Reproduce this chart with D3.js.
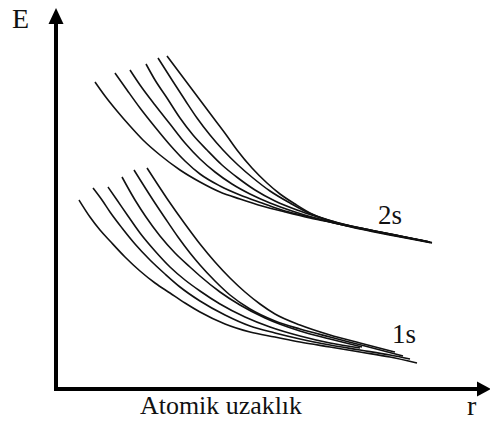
<!DOCTYPE html>
<html>
<head>
<meta charset="utf-8">
<script src="https://cdn.jsdelivr.net/npm/d3@7"></script>
<style>
  html, body { margin: 0; padding: 0; background: #fff; }
  svg { display: block; }
  .lbl { font-family: "Liberation Serif", "DejaVu Serif", "Times New Roman", Times, serif; fill: #111; }
</style>
</head>
<body>
<svg id="chart" width="490" height="423"></svg>
<script>
// values: r (atomic distance) and E, arbitrary units
const curves2s = [
  [[39,307],[49,293],[61,278],[74,263],[87,249],[104,234],[124,219],[144,207],[164,197],[184,190],[206,183],[229,177],[254,171],[274,167],[304,160],[339,153],[376,146]],
  [[59,316],[71,299],[84,281],[99,262],[114,244],[129,228],[144,215],[164,203],[184,194],[206,186],[229,178],[254,172],[274,167],[304,160.5],[339,153.5],[376,146.5]],
  [[74,319],[84,304],[99,284],[114,265],[129,246],[144,230],[159,217],[176,205],[194,195],[214,186],[236,178],[259,171],[279,166],[309,159.5],[344,152.5],[374,147]],
  [[90,325],[99,309],[111,291],[124,271],[137,254],[151,239],[166,224],[182,211],[199,199],[219,188],[241,179],[262,172],[282,166],[309,160],[344,153],[372,147.5]],
  [[102,331],[116,309],[129,289],[141,271],[154,254],[167,239],[182,224],[197,211],[214,198],[234,186],[254,175.5],[274,168.5],[289,164.5],[314,159],[344,153],[369,148]],
  [[111,333],[129,309],[144,289],[159,269],[171,253],[181,239],[196,221],[211,206],[224,195],[239,185],[256,175],[274,168],[294,163],[319,158],[349,152],[374,146.5]]
];

const curves1s = [
  [[23,189],[34,172],[44,159],[54,148],[69,132],[84,118],[99,106],[114,96],[129,86],[144,77],[169,65],[194,57],[219,52],[244,47],[274,42],[304,37],[334,32],[361,26]],
  [[37,201],[46,189],[54,177],[66,161],[79,145],[94,129],[109,115],[124,102],[144,88],[169,74],[194,63],[219,56],[244,50],[274,44],[304,39],[334,34],[354,30]],
  [[52,202],[61,189],[72,173],[84,156],[99,138],[114,122],[129,109],[144,98],[164,85],[189,72],[214,62],[244,53],[274,46],[304,41]],
  [[66,212],[79,189],[90,172],[104,153],[119,136],[134,122],[144,113],[164,97],[184,84],[209,71],[244,58],[274,50],[306,42]],
  [[78,219],[97,189],[109,171],[122,152],[134,136],[144,124],[159,108],[174,94],[194,80],[219,68],[244,60],[274,52],[309,43],[347,33]],
  [[91,221],[112,189],[129,165],[144,145],[159,127],[174,111],[189,97],[204,85],[219,75],[244,64],[274,54],[304,46],[339,37]]
];

const curveLabels = [
  { text: '2s', r: 322, E: 165 },
  { text: '1s', r: 336, E: 46 }
];

const axisLabels = { y: 'E', x: 'r', title: 'Atomik uzaklık' };

const svg = d3.select('#chart');

const x = d3.scaleLinear().domain([0, 434]).range([56, 490]);
const y = d3.scaleLinear().domain([0, 379]).range([389, 10]);

const line = d3.line()
  .x(d => x(d[0]))
  .y(d => y(d[1]))
  .curve(d3.curveMonotoneX);

// ==================
// curves
// ==================
svg.append('g')
  .selectAll('path')
  .data(curves2s.concat(curves1s))
  .join('path')
  .attr('d', line)
  .attr('fill', 'none')
  .attr('stroke', '#111')
  .attr('stroke-width', 1.6);

// ==================
// axes with arrow heads
// ==================
const x0 = x(0), y0 = y(0);
const xEnd = x.range()[1], yEnd = y.range()[1];
const axisGroup = svg.append('g');

axisGroup.append('line')
  .attr('x1', x0).attr('y1', y0 + 2)
  .attr('x2', x0).attr('y2', yEnd + 12)
  .attr('stroke', '#000').attr('stroke-width', 4);

axisGroup.append('line')
  .attr('x1', x0 - 2).attr('y1', y0)
  .attr('x2', xEnd - 10).attr('y2', y0)
  .attr('stroke', '#000').attr('stroke-width', 4);

axisGroup.append('path')
  .attr('d', `M${x0 - 7.5},${yEnd + 14}L${x0 + 7.5},${yEnd + 14}L${x0},${yEnd - 2}Z`)
  .attr('fill', '#000');

axisGroup.append('path')
  .attr('d', `M${xEnd - 13},${y0 - 7.5}L${xEnd - 13},${y0 + 7.5}L${xEnd + 1},${y0}Z`)
  .attr('fill', '#000');

// ==================
// labels
// ==================
svg.append('text').attr('class', 'lbl')
  .attr('x', 12).attr('y', 28)
  .attr('font-size', 28)
  .text(axisLabels.y);

svg.append('text').attr('class', 'lbl')
  .attr('x', 467).attr('y', 415)
  .attr('font-size', 28)
  .text(axisLabels.x);

svg.append('text').attr('class', 'lbl')
  .attr('x', 140).attr('y', 414)
  .attr('font-size', 25)
  .attr('textLength', 162)
  .attr('lengthAdjust', 'spacingAndGlyphs')
  .text(axisLabels.title);

svg.append('g')
  .selectAll('text')
  .data(curveLabels)
  .join('text')
  .attr('class', 'lbl')
  .attr('x', d => x(d.r))
  .attr('y', d => y(d.E))
  .attr('font-size', 27)
  .text(d => d.text);
</script>
</body>
</html>
